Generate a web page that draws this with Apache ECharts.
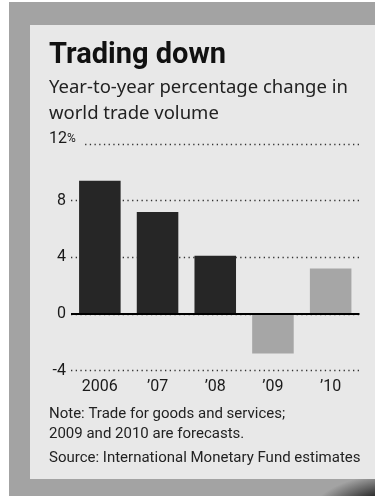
<!DOCTYPE html>
<html><head><meta charset="utf-8">
<script src="https://cdn.jsdelivr.net/npm/echarts@6/dist/echarts.min.js"></script>
<style>
html,body{margin:0;padding:0;background:#fff;width:375px;height:496px;overflow:hidden;}
#bg{position:absolute;left:9px;top:2px;width:366px;height:494px;background:#a3a3a3;}
#shade{position:absolute;left:310px;top:472px;width:140px;height:60px;border-radius:50%;background:radial-gradient(ellipse at 70% 70%, #111 0%, #333 40%, rgba(60,60,60,0) 70%);}
#panel{position:absolute;left:30px;top:25px;width:345px;height:454px;background:#e8e8e8;}
#chart{position:absolute;left:0;top:0;width:375px;height:496px;}
</style></head><body>
<div id="bg"></div><div id="shade"></div><div id="panel"></div><div id="chart"></div>
<script>
const categories = ['2006', '\u201907', '\u201908', '\u201909', '\u201910'];
const tradeChange = [9.4, 7.2, 4.1, -2.8, 3.2];
const isForecast = [false, false, false, true, true];
const yMin = -4, yMax = 12, yStep = 4;

const FONT = 'Roboto';
const SUB = 'Noto Sans';
const gridLeft = 71, gridRight = 15.5;
const chart = echarts.init(document.getElementById('chart'), null, {renderer: 'canvas'});
chart.setOption({
  backgroundColor: 'transparent',
  animation: false,
  title: [
    {text: 'Trading down', left: 49, top: 41, padding: 0,
     textStyle: {fontFamily: FONT, fontWeight: 'bold', fontSize: 29, lineHeight: 30, color: '#111'}},
    {text: 'Year-to-year percentage change in\nworld trade volume', left: 49, top: 75, padding: 0,
     textStyle: {fontFamily: SUB, fontWeight: 'normal', fontSize: 18.5, lineHeight: 26, color: '#222'}},
    {text: 'Note: Trade for goods and services;\n2009 and 2010 are forecasts.', left: 49, top: 404, padding: 0,
     textStyle: {fontFamily: FONT, fontWeight: 'normal', fontSize: 15, lineHeight: 20, color: '#222'}},
    {text: 'Source: International Monetary Fund estimates', left: 49, top: 448, padding: 0,
     textStyle: {fontFamily: FONT, fontWeight: 'normal', fontSize: 15, lineHeight: 20, color: '#222'}}
  ],
  grid: {left: gridLeft, right: gridRight, top: 144, bottom: 125.5, containLabel: false},
  xAxis: {
    type: 'category', data: categories,
    axisLine: {show: false}, axisTick: {show: false},
    axisLabel: {fontFamily: FONT, fontSize: 16, color: '#1a1a1a', margin: 8}
  },
  yAxis: [{
    type: 'value', position: 'left', min: yMin, max: yMax, interval: yStep,
    axisLine: {show: false}, axisTick: {show: false},
    splitLine: {show: true, lineStyle: {color: '#333', width: 1.3, type: [1.3, 3.4]}},
    axisLabel: {
      margin: 5, padding: [0, 0, 10, 0], fontFamily: FONT, fontSize: 16, color: '#1a1a1a',
      formatter: v => v === yMax ? '' : String(v)
    }
  }, {
    type: 'value', position: 'right', min: yMin, max: yMax, interval: yStep,
    axisLine: {show: false}, axisTick: {show: false}, splitLine: {show: false},
    axisLabel: {
      align: 'left', margin: -(375 - gridRight - 49), padding: [0, 0, 10, 0],
      formatter: v => v === yMax ? '{n|' + v + '}{p|%}' : '',
      rich: {
        n: {fontFamily: FONT, fontSize: 16, color: '#1a1a1a'},
        p: {fontFamily: FONT, fontSize: 12, color: '#1a1a1a', backgroundColor: '#e8e8e8', padding: [3, 8, 3, 0]}
      }
    }
  }],
  series: [{
    type: 'bar', data: tradeChange, barWidth: '72%', yAxisIndex: 0,
    itemStyle: {color: p => isForecast[p.dataIndex] ? '#a6a6a6' : '#262626'},
    markLine: {
      silent: true, symbol: 'none', label: {show: false},
      lineStyle: {color: '#000', width: 2, type: 'solid'},
      data: [{yAxis: 0}]
    }
  }]
});
</script>
</body></html>
